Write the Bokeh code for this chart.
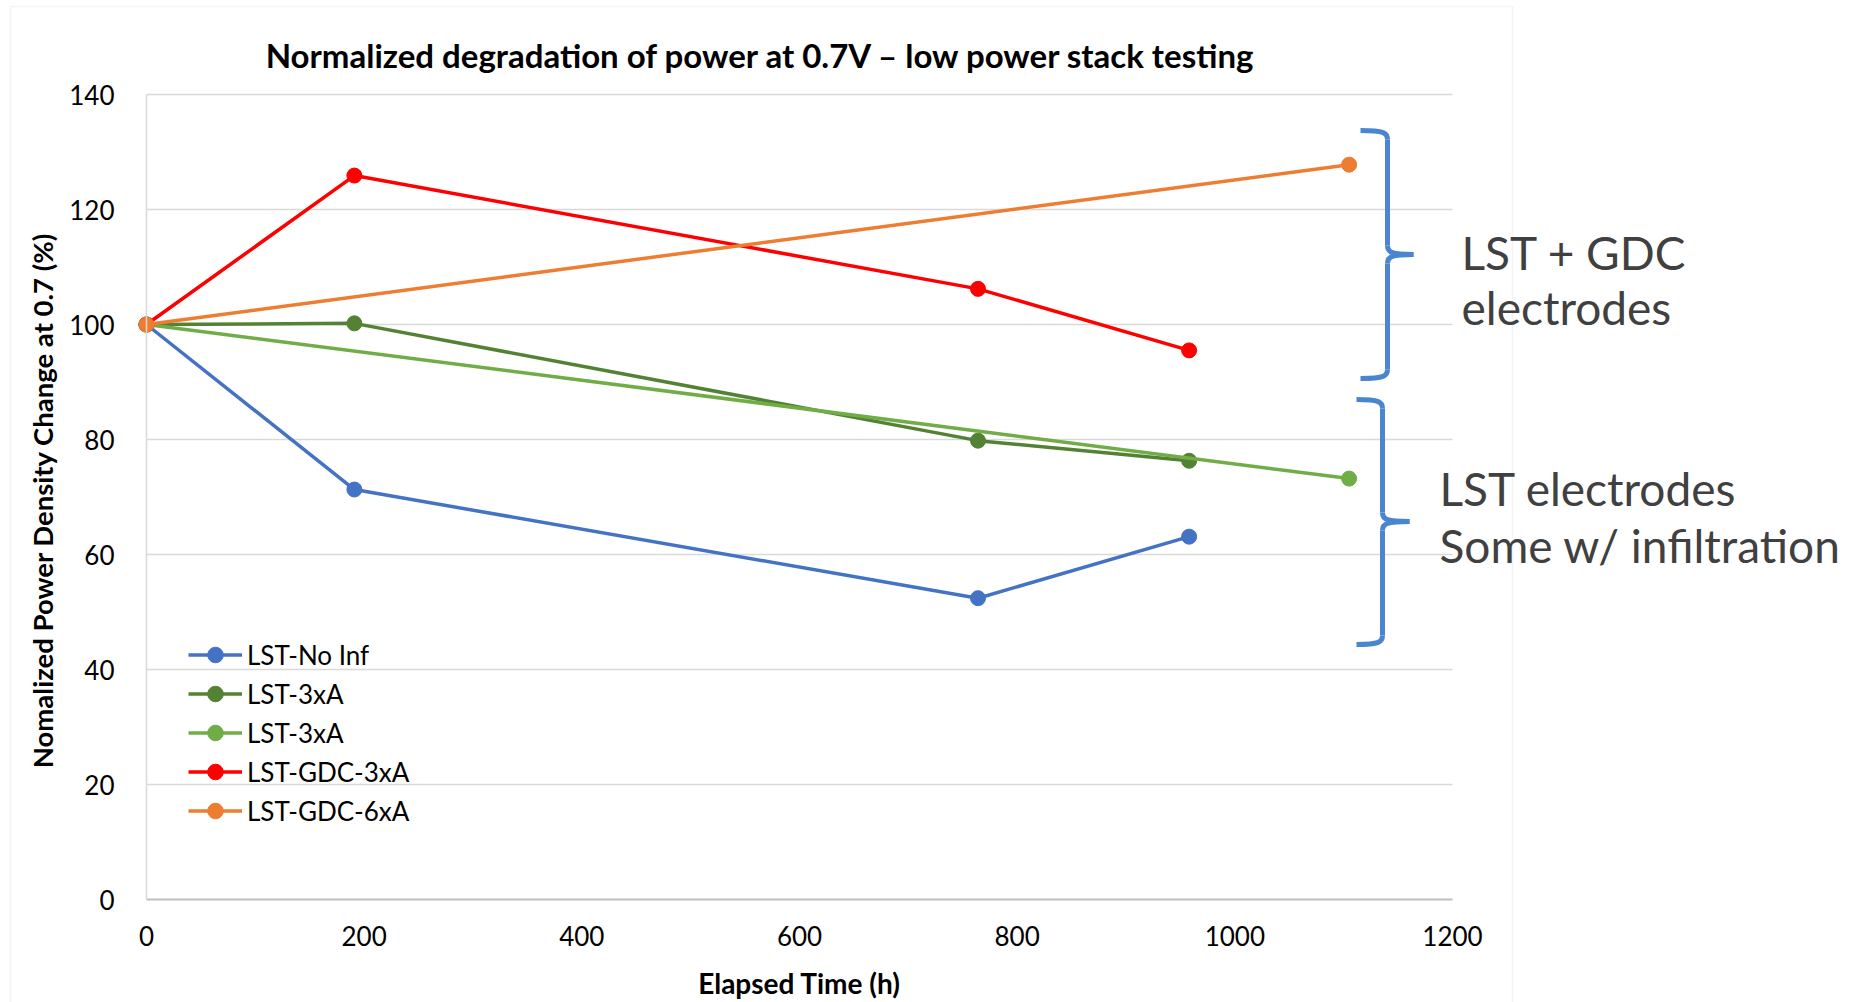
from bokeh.plotting import figure
from bokeh.models import (Range1d, Label, BoxAnnotation, Legend, LegendItem, FixedTicker,
                          LinearAxis, Grid)
from bokeh.embed import file_html
from bokeh.resources import INLINE

# ---- data ----
series_names = ["LST-No Inf", "LST-3xA", "LST-3xA", "LST-GDC-3xA", "LST-GDC-6xA"]
x_no_inf = [0, 191, 764, 958]
y_no_inf = [100, 71.3, 52.4, 63.1]
x_3xa_dark = [0, 191, 764, 958]
y_3xa_dark = [100, 100.2, 79.8, 76.3]
x_3xa_light = [0, 1105]
y_3xa_light = [100, 73.2]
x_gdc_3xa = [0, 191, 764, 958]
y_gdc_3xa = [100, 125.9, 106.2, 95.5]
x_gdc_6xa = [0, 1105]
y_gdc_6xa = [100, 127.8]
colors = ["#4472C4", "#548235", "#70AD47", "#FF0000", "#ED7D31"]
y_ticks = [0, 20, 40, 60, 80, 100, 120, 140]
x_ticks = [0, 200, 400, 600, 800, 1000, 1200]

title_text = "Normalized degradation of power at 0.7V \u2013 low power stack testing"
x_label = "Elapsed Time (h)"
y_label = "Nomalized Power Density Change  at 0.7 (%)"
group_labels = [["LST + GDC", "electrodes"], ["LST electrodes", "Some w/ infiltration"]]

FONT = "Lato"
W, H = 1852, 1002
FX0, FX1, FY0, FY1 = 146, 1452, 899, 94   # pixel positions of axis extents
sx = (FX1 - FX0) / (x_ticks[-1] - x_ticks[0])
sy = (FY0 - FY1) / (y_ticks[-1] - y_ticks[0])

def dx(px):
    return (px - FX0) / sx

def dy(py):
    return (FY0 - py) / sy

p = figure(width=W, height=H, output_backend="svg", toolbar_location=None,
           x_range=Range1d(dx(0), dx(W)), y_range=Range1d(dy(H), dy(0)),
           x_axis_location=None, y_axis_location=None,
           min_border_left=0, min_border_right=0, min_border_top=0, min_border_bottom=0)
p.outline_line_color = None
p.background_fill_color = "white"
p.border_fill_color = "white"
for g in p.grid:
    g.visible = False

xaxis = LinearAxis(fixed_location=0, bounds=(x_ticks[0], x_ticks[-1]), ticker=FixedTicker(ticks=x_ticks))
yaxis = LinearAxis(fixed_location=0, bounds=(y_ticks[0], y_ticks[-1]), ticker=FixedTicker(ticks=y_ticks))
for ax in (xaxis, yaxis):
    ax.major_tick_line_color = None
    ax.minor_tick_line_color = None
    ax.major_label_text_font = FONT
    ax.major_label_text_font_size = "26px"
    ax.major_label_text_color = "#000000"
    ax.axis_label_text_font = FONT
    ax.axis_label_text_font_style = "bold"
    ax.axis_label_text_color = "#000000"
yaxis.axis_label_text_font_size = "27.5px"
xaxis.axis_label_text_font_size = "28px"
yaxis.axis_line_color = "#D9D9D9"
yaxis.axis_line_width = 1.5
xaxis.axis_line_color = "#BFBFBF"
xaxis.axis_line_width = 2
yaxis.major_label_standoff = 26
xaxis.major_label_standoff = 20
xaxis.axis_label_standoff = 17
yaxis.axis_label_standoff = 7
xaxis.axis_label = x_label
yaxis.axis_label = y_label

ygrid = Grid(dimension=1, ticker=FixedTicker(ticks=y_ticks[1:]), bounds=(y_ticks[0], y_ticks[-1]),
             cross_bounds=(x_ticks[0], x_ticks[-1]), grid_line_color="#D9D9D9", grid_line_width=1.5)
p.add_layout(ygrid)
p.add_layout(xaxis, "below")
p.add_layout(yaxis, "left")

# outer chart border
p.add_layout(BoxAnnotation(left=dx(10), right=dx(1512), top=dy(6), bottom=dy(H + 20),
                           fill_alpha=0, line_color="#D9D9D9", line_width=1.5))

xs = [x_no_inf, x_3xa_dark, x_3xa_light, x_gdc_3xa, x_gdc_6xa]
ys = [y_no_inf, y_3xa_dark, y_3xa_light, y_gdc_3xa, y_gdc_6xa]
items = []
for name, xx, yy, c in zip(series_names, xs, ys, colors):
    r1 = p.line(xx, yy, line_color=c, line_width=3.5)
    r2 = p.scatter(xx, yy, size=15, fill_color=c, line_color=c)
    items.append(LegendItem(label=name, renderers=[r1, r2]))

legend = Legend(items=items, location=(188, H - 830), padding=0, margin=0, spacing=0,
                glyph_width=54, glyph_height=39, label_height=39, label_standoff=5,
                label_text_font=FONT, label_text_font_size="26px", label_text_color="#000000",
                border_line_color=None, background_fill_alpha=0)
p.add_layout(legend, "center")

# title
p.add_layout(Label(x=dx(761), y=dy(54), text=title_text, text_align="center", text_baseline="middle",
                   text_font=FONT, text_font_style="bold", text_font_size="33px", text_color="#000000"))

# braces (pixel positions converted to data units)
BRACE = "#4A86D0"
brace_specs = [
    dict(top=130, mid=254, bottom=378, xl=1360, xv=1387, xt=1413),
    dict(top=399, mid=521, bottom=644, xl=1356, xv=1382, xt=1409),
]
for b in brace_specs:
    top, mid, bot = dy(b["top"]), dy(b["mid"]), dy(b["bottom"])
    xl, xv, xt = dx(b["xl"]), dx(b["xv"]), dx(b["xt"])
    r = dy(0) - dy(9)     # ~9px curve radius in data y
    rx = dx(FX0 + 9) - dx(FX0)
    kw = dict(line_color=BRACE, line_width=5)
    p.bezier(x0=[xl], y0=[top], x1=[xv], y1=[top - r], cx0=[xv - rx * 0.3], cy0=[top], cx1=[xv], cy1=[top - r * 0.3], **kw)
    p.line([xv, xv], [top - r, mid + r], **kw)
    p.bezier(x0=[xv], y0=[mid + r], x1=[xt], y1=[mid], cx0=[xv], cy0=[mid + r * 0.2], cx1=[xv + rx * 0.5], cy1=[mid], **kw)
    p.bezier(x0=[xv], y0=[mid - r], x1=[xt], y1=[mid], cx0=[xv], cy0=[mid - r * 0.2], cx1=[xv + rx * 0.5], cy1=[mid], **kw)
    p.line([xv, xv], [mid - r, bot + r], **kw)
    p.bezier(x0=[xv], y0=[bot + r], x1=[xl], y1=[bot], cx0=[xv], cy0=[bot + r * 0.3], cx1=[xv - rx * 0.3], cy1=[bot], **kw)

# group labels
label_pos = [(1461, [252, 307]), (1439, [488, 545])]
for (lx, lys), lines in zip(label_pos, group_labels):
    for ly, t in zip(lys, lines):
        p.add_layout(Label(x=dx(lx), y=dy(ly), text=t, text_align="left", text_baseline="alphabetic",
                           text_font=FONT, text_font_size="46px", text_color="#404040"))

open("out.html", "w").write(file_html(p, INLINE))
